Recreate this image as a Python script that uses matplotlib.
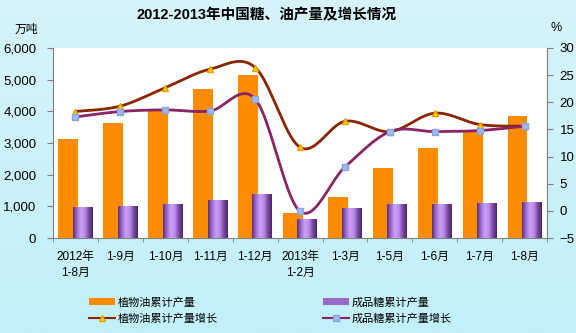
import numpy as np
import matplotlib
matplotlib.use("Agg")
import matplotlib.pyplot as plt
from matplotlib.colors import LinearSegmentedColormap
from matplotlib.ticker import FuncFormatter, MultipleLocator

plt.rcParams['font.family'] = ['Liberation Sans', 'Noto Sans CJK SC', 'DejaVu Sans']

months = ['2012年\n1-8月', '1-9月', '1-10月', '1-11月', '1-12月', '2013年\n1-2月',
          '1-3月', '1-5月', '1-6月', '1-7月', '1-8月']
oil_output = [3120, 3620, 4000, 4690, 5150, 790, 1300, 2200, 2850, 3340, 3860]      # 万吨
sugar_output = [990, 1010, 1070, 1200, 1390, 600, 960, 1070, 1090, 1100, 1130]     # 万吨
oil_growth = [18.3, 19.3, 22.7, 26.1, 26.4, 11.7, 16.5, 14.6, 18.0, 15.9, 15.6]    # %
sugar_growth = [17.3, 18.3, 18.6, 18.4, 20.6, -0.1, 8.1, 14.6, 14.6, 14.8, 15.6]   # %


def smooth(x, y, n=24):
    # Catmull-Rom curve through the points, like a spreadsheet "smoothed line"
    pts = np.column_stack([x, y]).astype(float)
    p = np.vstack([pts[0], pts, pts[-1]])
    t = np.linspace(0, 1, n, endpoint=False)[:, None]
    segs = []
    for i in range(1, len(p) - 2):
        p0, p1, p2, p3 = p[i - 1], p[i], p[i + 1], p[i + 2]
        segs.append(0.5 * (2 * p1 + (p2 - p0) * t
                           + (2 * p0 - 5 * p1 + 4 * p2 - p3) * t ** 2
                           + (3 * p1 - p0 - 3 * p2 + p3) * t ** 3))
    segs.append(pts[-1:])
    s = np.vstack(segs)
    return s[:, 0], s[:, 1]


fig = plt.figure(figsize=(5.76, 3.33), dpi=100)

# light cyan backdrop
bg = fig.add_axes([0, 0, 1, 1], zorder=-10)
grad = np.linspace(0, 1, 256)[:, None]
bg.imshow(grad, aspect='auto', extent=[0, 1, 0, 1],
          cmap=LinearSegmentedColormap.from_list('bg', ['#D6F4FA', '#C2F0F8']))
bg.axis('off')

ax = fig.add_axes([0.092, 0.285, 0.858, 0.571])
ax.set_facecolor('white')
x = np.arange(len(months))
w = 0.44

ax.bar(x - 0.16, oil_output, w, color='#FF8C00', zorder=2, label='植物油累计产量')
sugar_bars = ax.bar(x + 0.16, sugar_output, w, color='#9A6ACB', zorder=3,
                    label='成品糖累计产量')

# cylinder shading on the sugar bars
cyl = LinearSegmentedColormap.from_list(
    'cyl', ['#5A2E78', '#9E6FD6', '#C9A2F5', '#B98BEA', '#7A4A9E', '#4E2468'])
shade = np.linspace(0, 1, 64)[None, :]
for b in sugar_bars:
    im = ax.imshow(shade, cmap=cyl, aspect='auto', zorder=3.5,
                   extent=[b.get_x(), b.get_x() + b.get_width(), 0, b.get_height()])
    im.set_clip_path(b)

ax.set_xlim(-0.5, len(months) - 0.5)
ax.set_ylim(0, 6000)
ax.yaxis.set_major_locator(MultipleLocator(1000))
ax.yaxis.set_major_formatter(FuncFormatter(lambda v, p: f'{int(v):,}'))
ax.set_xticks(x)
ax.set_xticklabels(months, fontsize=8.5, linespacing=1.5)
ax.set_xticks(np.arange(-0.5, len(months)), minor=True)
ax.tick_params(axis='x', which='major', length=0, pad=9)
ax.tick_params(axis='x', which='minor', length=3, color='#808080', direction='out')
ax.tick_params(axis='y', labelsize=9.5, length=4, color='#808080', pad=8)
ax.spines['top'].set_visible(False)
ax.spines['right'].set_visible(False)
for s in ('left', 'bottom'):
    ax.spines[s].set_color('#808080')

ax2 = ax.twinx()
ax2.set_ylim(-5, 30)
ax2.yaxis.set_major_locator(MultipleLocator(5))
ax2.tick_params(axis='y', labelsize=9.5, length=4, color='#808080', pad=5)
for s in ('top', 'left', 'bottom'):
    ax2.spines[s].set_visible(False)
ax2.spines['right'].set_color('#808080')

sx, sy = smooth(x, oil_growth)
ax2.plot(sx, sy, color='#8B2500', lw=2, zorder=4)
ax2.plot(x, oil_growth, ls='none', marker='^', ms=5, mfc='#FFD700', mec='#E8A000',
         zorder=5)
sx, sy = smooth(x, sugar_growth)
ax2.plot(sx, sy, color='#8B2463', lw=2, zorder=4)
ax2.plot(x, sugar_growth, ls='none', marker='s', ms=5, mfc='#9DB8F2', mec='#8AA4E0',
         zorder=5)

# legend handles for the two growth curves
h_oil, = ax2.plot([], [], color='#8B2500', lw=1.5, marker='^', ms=5,
                  mfc='#FFD700', mec='#E8A000', label='植物油累计产量增长')
h_sugar, = ax2.plot([], [], color='#8B2463', lw=1.5, marker='s', ms=5,
                    mfc='#9DB8F2', mec='#8AA4E0', label='成品糖累计产量增长')
hb, lb = ax.get_legend_handles_labels()
fig.legend([hb[0], h_oil, hb[1], h_sugar],
           [lb[0], h_oil.get_label(), lb[1], h_sugar.get_label()],
           ncol=2, loc='upper left', bbox_to_anchor=(0.145, 0.125), frameon=False,
           fontsize=8, handlelength=2.3, handleheight=0.6, handletextpad=0.25,
           columnspacing=9.5, labelspacing=0.55, borderpad=0)

fig.text(0.462, 0.953, '2012-2013年中国糖、油产量及增长情况', ha='center', va='center',
         fontsize=10.5, fontweight='bold')
fig.text(0.046, 0.91, '万吨', ha='center', va='center', fontsize=8.5)
fig.text(0.966, 0.915, '%', ha='center', va='center', fontsize=9)

fig.savefig('out.png', dpi=100)
